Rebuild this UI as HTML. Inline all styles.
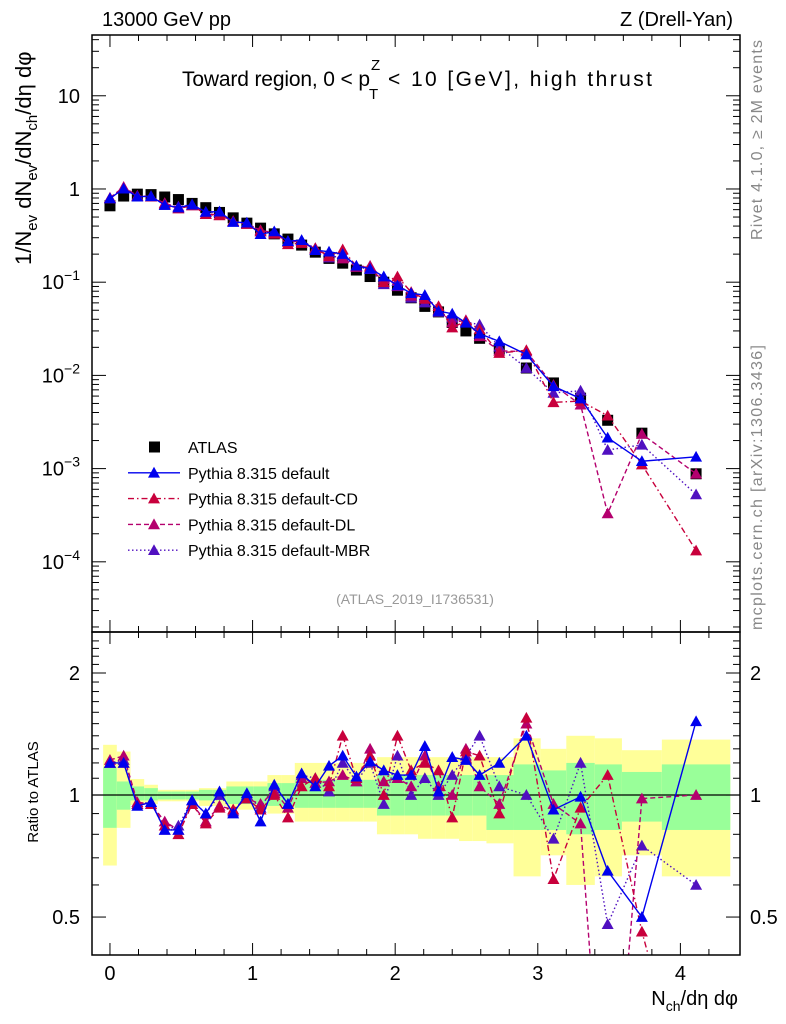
<!DOCTYPE html>
<html><head><meta charset="utf-8">
<style>
html,body{margin:0;padding:0;background:#fff;width:786px;height:1024px;overflow:hidden;}
svg{display:block;overflow:hidden;font-family:"Liberation Sans",Arial,sans-serif;}
</style></head>
<body>
<svg id="chart" width="786" height="1024" viewBox="0 0 786 1024" xmlns="http://www.w3.org/2000/svg">
<text x="102" y="26" font-size="20">13000 GeV pp</text>
<text x="733" y="26" font-size="20" text-anchor="end">Z (Drell-Yan)</text>
<g>
<text x="182" y="86" font-size="21" textLength="188" lengthAdjust="spacing">Toward region, 0 &lt; p</text>
<text x="369" y="99" font-size="15">T</text>
<text x="371" y="70" font-size="15">Z</text>
<text x="388" y="86" font-size="21" textLength="264" lengthAdjust="spacing">&lt; 10 [GeV], high thrust</text>
</g>
<text transform="translate(762,240) rotate(-90)" font-size="16" fill="#888" textLength="200" lengthAdjust="spacing">Rivet 4.1.0, ≥ 2M events</text>
<text transform="translate(762,630) rotate(-90)" font-size="16" fill="#888" textLength="285" lengthAdjust="spacing">mcplots.cern.ch [arXiv:1306.3436]</text>
<text transform="translate(31,265) rotate(-90)" font-size="22">1/N<tspan font-size="15" dy="6">ev</tspan><tspan dy="-6"> dN</tspan><tspan font-size="15" dy="6">ev</tspan><tspan dy="-6">/dN</tspan><tspan font-size="15" dy="6">ch</tspan><tspan dy="-6">/dη dφ</tspan></text>
<text transform="translate(38,792) rotate(-90)" font-size="15" text-anchor="middle">Ratio to ATLAS</text>
<text x="738" y="1005" font-size="20" text-anchor="end">N<tspan font-size="14" dy="6">ch</tspan><tspan dy="-6">/dη dφ</tspan></text>
<text x="415" y="604" font-size="14" fill="#999" text-anchor="middle">(ATLAS_2019_I1736531)</text>
<g id="bands"></g><g id="plots"></g><g id="axes"></g><g id="legend"></g>
</svg>
<script>
const xs = [0,0.096,0.192,0.288,0.384,0.48,0.576,0.672,0.768,0.864,0.96,1.056,1.152,1.248,1.344,1.44,1.536,1.632,1.728,1.824,1.92,2.016,2.112,2.208,2.304,2.4,2.496,2.592,2.73,2.92,3.11,3.30,3.49,3.73,4.11];
const binEdges = [-0.048,0.048,0.144,0.24,0.336,0.432,0.528,0.624,0.72,0.816,0.912,1.008,1.104,1.2,1.296,1.392,1.488,1.584,1.68,1.776,1.872,1.968,2.064,2.16,2.256,2.352,2.448,2.544,2.64,2.83,3.02,3.2,3.4,3.59,3.87,4.35];
const atlas = [0.66,0.84,0.88,0.87,0.82,0.77,0.70,0.63,0.56,0.49,0.43,0.38,0.33,0.29,0.25,0.21,0.18,0.16,0.135,0.115,0.10,0.082,0.068,0.055,0.048,0.037,0.030,0.025,0.0193,0.012,0.0083,0.0057,0.0033,0.0024,0.00088];
const ratioDefault = [1.2,1.2,0.94,0.96,0.82,0.82,0.97,0.9,1.02,0.9,1.01,0.86,1.06,0.95,1.13,1.05,1.18,1.25,1.11,1.21,1.15,1.12,1.12,1.32,1.02,1.24,1.22,1.12,1.2,1.4,0.92,0.99,0.65,0.5,1.52];
const ratioCD = [1.2,1.2,0.95,0.95,0.84,0.8,0.95,0.85,0.93,0.92,0.98,0.92,1.0,0.88,1.05,1.1,1.05,1.4,1.1,1.25,1.0,1.4,1.15,1.2,1.15,0.88,1.28,1.25,0.9,1.55,0.62,0.93,1.12,0.46,0.15];
const ratioDL = [1.22,1.25,0.96,0.95,0.86,0.82,0.95,0.86,0.94,0.92,0.98,0.95,1.02,0.93,1.1,1.07,1.08,1.12,1.08,1.3,1.08,1.1,1.05,1.25,1.05,1.0,1.3,1.05,0.95,1.5,0.95,0.85,0.1,0.98,1.0];
const ratioMBR = [1.2,1.22,0.95,0.96,0.82,0.84,0.97,0.9,1.0,0.91,1.0,0.93,1.05,0.95,1.12,1.1,1.02,1.2,1.08,1.2,0.95,1.25,1.0,1.1,1.0,1.12,1.25,1.4,1.05,1.0,0.78,1.2,0.48,0.75,0.6];
const yellowUp = [1.33,1.28,1.095,1.06,1.03,1.03,1.03,1.04,1.04,1.08,1.08,1.08,1.12,1.12,1.2,1.2,1.2,1.2,1.2,1.2,1.24,1.24,1.24,1.24,1.24,1.24,1.24,1.24,1.24,1.38,1.3,1.4,1.38,1.29,1.37];
const yellowLo = [0.67,0.83,0.945,0.95,0.965,0.965,0.965,0.94,0.94,0.92,0.92,0.92,0.9,0.9,0.86,0.86,0.86,0.86,0.86,0.86,0.8,0.8,0.8,0.78,0.78,0.78,0.77,0.77,0.76,0.63,0.71,0.6,0.63,0.71,0.63];
const greenUp = [1.17,1.08,1.05,1.04,1.02,1.02,1.02,1.03,1.03,1.05,1.05,1.05,1.07,1.07,1.09,1.09,1.09,1.09,1.09,1.09,1.12,1.12,1.12,1.12,1.12,1.12,1.12,1.12,1.12,1.19,1.15,1.2,1.19,1.14,1.19];
const greenLo = [0.83,0.92,0.97,0.97,0.975,0.975,0.975,0.97,0.97,0.95,0.95,0.95,0.94,0.94,0.93,0.93,0.93,0.93,0.93,0.93,0.89,0.89,0.89,0.89,0.89,0.89,0.89,0.89,0.82,0.82,0.82,0.8,0.82,0.86,0.82];
const mainTickVals = [10,1,0.1,0.01,0.001,0.0001];
const mainTickLabels = ["10","1","10^-1","10^-2","10^-3","10^-4"];
const ratioTickVals = [0.5,1,2];
const xTickVals = [0,1,2,3,4];

const NS="http://www.w3.org/2000/svg";
const L=92,R=740,T=35,MB=632,RB=955;
const xmin=-0.126,xmax=4.418;
const X=v=>L+(v-xmin)/(xmax-xmin)*(R-L);
const lymax=1.652,lymin=-4.753;
const Y=v=>T+(lymax-Math.log10(v))/(lymax-lymin)*(MB-T);
const r2max=1.336,r2min=-1.311;
const YR=v=>MB+(r2max-Math.log2(v))/(r2max-r2min)*(RB-MB);
function mk(tag,attrs,parent){const e=document.createElementNS(NS,tag);for(const k in attrs)e.setAttribute(k,attrs[k]);parent.appendChild(e);return e;}
const bands=document.getElementById('bands'),plots=document.getElementById('plots'),axes=document.getElementById('axes'),legend=document.getElementById('legend');

const defs=mk('defs',{},plots);
const c1=mk('clipPath',{id:'cm'},defs);mk('rect',{x:L,y:T,width:R-L,height:MB-T},c1);
const c2=mk('clipPath',{id:'cr'},defs);mk('rect',{x:L,y:MB,width:R-L,height:RB-MB},c2);

for(let i=0;i<xs.length;i++){
  const x0=X(binEdges[i]),x1=X(binEdges[i+1]);
  const y=mk('rect',{x:x0,y:YR(yellowUp[i]),width:x1-x0,height:YR(yellowLo[i])-YR(yellowUp[i]),fill:'#ffff99'},bands);
  
  
  const g=mk('rect',{x:x0,y:YR(greenUp[i]),width:x1-x0,height:YR(greenLo[i])-YR(greenUp[i]),fill:'#99ff99'},bands);
  
  
}
const one=mk('line',{x1:L,x2:R,y1:YR(1),y2:YR(1),stroke:'#000','stroke-width':1.2},bands);



const series=[
 {name:'default',r:ratioDefault,col:'#0000ee',dash:''},
 {name:'default-cd',r:ratioCD,col:'#c8003c',dash:'6,3,1.5,3'},
 {name:'default-dl',r:ratioDL,col:'#b4006e',dash:'5,3'},
 {name:'default-mbr',r:ratioMBR,col:'#5010c0',dash:'1.5,2.5'}
];
function tri(cx,cy,col,parent,nm){const s=6;const p=mk('polygon',{points:`${cx},${cy-s} ${cx-s},${cy+s*0.8} ${cx+s},${cy+s*0.8}`,fill:col},parent);return p;}

const gm=mk('g',{'clip-path':'url(#cm)'},plots);
const gr=mk('g',{'clip-path':'url(#cr)'},plots);
atlas.forEach((v,i)=>{const s=mk('rect',{x:X(xs[i])-5.5,y:Y(v)-5.5,width:11,height:11,fill:'#000'},gm);
  
  });
series.slice().reverse().forEach(sr=>{
  const mv=atlas.map((a,i)=>a*sr.r[i]);
  const pl=mk('polyline',{points:mv.map((v,i)=>X(xs[i])+','+Y(v)).join(' '),fill:'none',stroke:sr.col,'stroke-width':1.4,'stroke-dasharray':sr.dash},gm);
  
  
  mv.forEach((v,i)=>tri(X(xs[i]),Y(v),sr.col,gm,sr.name+'-point'));
  const rl=mk('polyline',{points:sr.r.map((v,i)=>X(xs[i])+','+YR(v)).join(' '),fill:'none',stroke:sr.col,'stroke-width':1.4,'stroke-dasharray':sr.dash},gr);
  
  
  sr.r.forEach((v,i)=>tri(X(xs[i]),YR(v),sr.col,gr,sr.name+'-ratio-point'));
});

[[T,MB],[MB,RB]].forEach(([a,b])=>{const f=mk('rect',{x:L,y:a,width:R-L,height:b-a,fill:'none',stroke:'#000','stroke-width':1.5},axes);
  
  });
function tk(x1,y1,x2,y2){mk('line',{x1,y1,x2,y2,stroke:'#000','stroke-width':1},axes);}
for(let v=-0.2;v<=4.4;v+=0.2){const vv=Math.round(v*10)/10;if(vv<xmin||vv>xmax)continue;const x=X(vv);const maj=Math.abs(vv-Math.round(vv))<1e-6;const l=maj?12:6;
  tk(x,MB,x,MB-l);tk(x,T,x,T+l);tk(x,RB,x,RB-l);tk(x,MB,x,MB+l);}
xTickVals.forEach(v=>{const t=mk('text',{x:X(v),y:980,'font-size':20,'text-anchor':'middle'},axes);t.textContent=v;
  
  });
for(let d=-5;d<=1;d++){for(let m=1;m<10;m++){const v=m*Math.pow(10,d);const lg=Math.log10(v);if(lg>lymax||lg<lymin)continue;const y=Y(v);const l=m==1?14:7;tk(L,y,L+l,y);tk(R,y,R-l,y);}}
mainTickVals.forEach((v,i)=>{const lab=mainTickLabels[i];const t=mk('text',{x:80,y:Y(v)+7,'font-size':20,'text-anchor':'end'},axes);
  if(lab.includes('^')){const [b,e]=lab.split('^');t.textContent=b;const s=mk('tspan',{'font-size':14,dy:-9},t);s.textContent=e.replace('-','−');}else t.textContent=lab;
  
  });
for(let v=0.4;v<=2.5;v+=0.1){const vv=Math.round(v*10)/10;const lg=Math.log2(vv);if(lg>r2max||lg<r2min)continue;const y=YR(vv);const maj=ratioTickVals.includes(vv);const l=maj?14:7;tk(L,y,L+l,y);tk(R,y,R-l,y);}
ratioTickVals.forEach(v=>{[[80,'end'],[750,'start']].forEach(([x,a])=>{const t=mk('text',{x,y:YR(v)+7,'font-size':20,'text-anchor':a},axes);t.textContent=v;
  
  });});

const lx=140,names=['ATLAS','Pythia 8.315 default','Pythia 8.315 default-CD','Pythia 8.315 default-DL','Pythia 8.315 default-MBR'];
names.forEach((n,i)=>{const y=447+i*25.8;const g=mk('g',{},legend);
  
  
  if(i==0){mk('rect',{x:lx+9,y:y-5.5,width:11,height:11,fill:'#000'},g);}
  else{const s=series[i-1];mk('line',{x1:lx-12,x2:lx+40,y1:y,y2:y,stroke:s.col,'stroke-width':1.4,'stroke-dasharray':s.dash},g);tri(lx+14,y,s.col,g,'legend-marker');}
  const t=mk('text',{x:lx+48,y:y+6,'font-size':16},g);t.textContent=n;});
</script>
</body></html>
